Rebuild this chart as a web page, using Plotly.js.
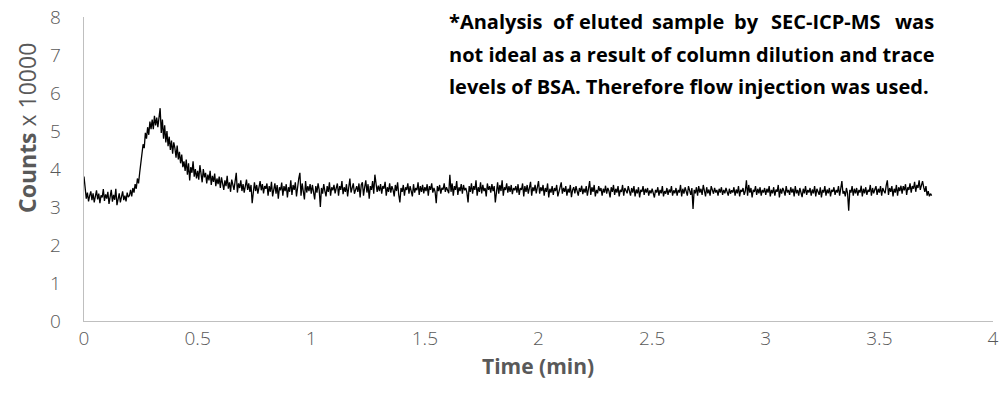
<!DOCTYPE html>
<html>
<head>
<meta charset="utf-8">
<script src="https://cdn.plot.ly/plotly-3.0.1.min.js"></script>
<style>html,body{margin:0;padding:0;background:#fff;}#chart{width:1003px;height:396px;}</style>
</head>
<body>
<div id="chart"></div>
<script>
// Sampling of the trace (minutes)
const timeStart = 0;
const timeStep = 0.005;

// Counts (x 10000), one row per 0.1 min
const counts = [
 3.80,3.55,3.22,3.38,3.15,3.30,3.41,3.18,3.36,3.12,3.28,3.44,3.20,3.35,3.10,3.31,3.25,3.47,3.16,3.33,
 3.22,3.40,3.08,3.29,3.45,3.14,3.32,3.19,3.48,3.05,3.27,3.36,3.12,3.24,3.41,3.18,3.30,3.15,3.38,3.26,
 3.30,3.45,3.28,3.50,3.38,3.60,3.48,3.75,3.62,3.90,4.20,4.45,4.65,4.55,4.95,4.80,5.10,4.90,5.25,5.05,
 5.30,5.05,5.40,5.15,5.35,5.10,5.45,5.60,4.95,5.30,4.80,5.15,4.70,5.00,4.60,4.85,4.50,4.75,4.40,4.70,
 4.55,4.30,4.62,4.25,4.45,4.15,4.38,4.05,4.20,3.95,4.25,3.85,4.15,3.70,4.05,3.90,4.20,3.80,4.00,3.75,
 3.95,3.72,4.10,3.80,3.65,4.00,3.78,3.90,3.62,3.85,3.70,3.95,3.58,3.82,3.66,3.88,3.55,3.75,3.60,3.80,
 3.50,3.78,3.62,3.45,3.70,3.55,3.82,3.48,3.65,3.40,3.72,3.58,3.45,3.68,3.90,3.38,3.62,3.50,3.70,3.42,
 3.60,3.38,3.55,3.72,3.45,3.62,3.40,3.58,3.10,3.50,3.65,3.42,3.58,3.35,3.52,3.68,3.44,3.60,3.36,3.55,
 3.48,3.62,3.30,3.55,3.40,3.66,3.28,3.50,3.62,3.35,3.58,3.22,3.52,3.44,3.64,3.30,3.55,3.42,3.60,3.25,
 3.52,3.40,3.70,3.32,3.58,3.45,3.65,3.28,3.55,3.75,3.90,3.30,3.62,3.45,3.20,3.68,3.38,3.55,3.42,3.60,
 3.35,3.58,3.42,3.20,3.55,3.38,3.62,3.45,3.00,3.50,3.35,3.60,3.42,3.28,3.55,3.40,3.65,3.30,3.52,3.44,
 3.58,3.36,3.50,3.62,3.30,3.55,3.45,3.68,3.34,3.52,3.40,3.60,3.28,3.56,3.75,3.38,3.50,3.62,3.35,3.48,
 3.55,3.40,3.62,3.25,3.58,3.65,3.30,3.52,3.70,3.38,3.60,3.22,3.55,3.45,3.68,3.35,3.85,3.62,3.40,3.56,
 3.42,3.60,3.35,3.55,3.48,3.66,3.30,3.52,3.40,3.62,3.38,3.55,3.45,3.28,3.58,3.42,3.65,3.32,3.12,3.50,
 3.40,3.58,3.30,3.52,3.45,3.62,3.35,3.55,3.42,3.28,3.60,3.38,3.50,3.44,3.65,3.32,3.55,3.40,3.58,3.36,
 3.52,3.42,3.60,3.30,3.55,3.45,3.62,3.38,3.50,3.40,3.10,3.55,3.42,3.58,3.35,3.50,3.46,3.62,3.40,3.52,
 3.44,3.36,3.85,3.40,3.62,3.30,3.55,3.45,3.68,3.32,3.52,3.42,3.60,3.35,3.58,3.44,3.50,3.38,3.12,3.55,
 3.40,3.62,3.35,3.55,3.45,3.70,3.30,3.52,3.40,3.65,3.36,3.58,3.42,3.50,3.28,3.62,3.45,3.55,3.38,3.60,
 3.42,3.55,3.12,3.48,3.65,3.35,3.58,3.42,3.70,3.30,3.52,3.45,3.62,3.38,3.55,3.40,3.58,3.34,3.50,3.44,
 3.55,3.38,3.60,3.32,3.50,3.45,3.62,3.28,3.55,3.40,3.58,3.35,3.48,3.66,3.30,3.52,3.42,3.58,3.36,3.50,
 3.68,3.35,3.52,3.42,3.58,3.30,3.50,3.40,3.62,3.25,3.48,3.38,3.55,3.32,3.50,3.42,3.58,3.28,3.45,3.52,
 3.65,3.35,3.50,3.40,3.55,3.30,3.48,3.38,3.58,3.26,3.45,3.52,3.36,3.55,3.42,3.30,3.50,3.40,3.56,3.34,
 3.48,3.38,3.55,3.30,3.48,3.68,3.32,3.52,3.40,3.58,3.28,3.45,3.36,3.55,3.42,3.50,3.30,3.48,3.38,3.56,
 3.35,3.50,3.42,3.25,3.52,3.40,3.58,3.32,3.48,3.38,3.55,3.28,3.45,3.40,3.58,3.30,3.50,3.42,3.36,3.55,
 3.42,3.30,3.50,3.38,3.55,3.28,3.46,3.36,3.52,3.25,3.45,3.40,3.55,3.32,3.48,3.38,3.50,3.30,3.44,3.36,
 3.48,3.32,3.25,3.45,3.38,3.52,3.30,3.45,3.36,3.55,3.28,3.42,3.35,3.50,3.32,3.46,3.38,3.55,3.30,3.44,
 3.36,3.50,3.30,3.45,3.38,3.58,3.28,3.48,3.35,3.52,3.40,3.30,3.55,3.42,3.32,3.50,2.95,3.45,3.36,3.52,
 3.30,3.55,3.38,3.48,3.32,3.58,3.40,3.28,3.52,3.36,3.46,3.30,3.55,3.42,3.35,3.50,3.38,3.45,3.30,3.48,
 3.38,3.52,3.32,3.45,3.36,3.50,3.40,3.30,3.48,3.35,3.44,3.38,3.52,3.30,3.46,3.36,3.55,3.28,3.45,3.40,
 3.50,3.32,3.42,3.70,3.30,3.58,3.38,3.50,3.25,3.45,3.40,3.55,3.32,3.48,3.36,3.52,3.30,3.45,3.38,3.50,
 3.32,3.48,3.38,3.55,3.28,3.45,3.36,3.52,3.30,3.46,3.40,3.58,3.25,3.48,3.35,3.50,3.42,3.30,3.55,3.38,
 3.45,3.32,3.52,3.38,3.48,3.28,3.55,3.36,3.45,3.30,3.50,3.40,3.26,3.48,3.36,3.55,3.32,3.45,3.38,3.50,
 3.30,3.46,3.36,3.55,3.28,3.48,3.40,3.32,3.52,3.25,3.45,3.38,3.55,3.30,3.46,3.36,3.50,3.28,3.45,3.40,
 3.52,3.32,3.45,3.38,3.55,3.30,3.48,3.68,3.35,3.42,3.28,3.50,3.36,2.90,3.45,3.38,3.55,3.30,3.48,3.36,
 3.50,3.30,3.45,3.38,3.56,3.28,3.48,3.36,3.52,3.32,3.45,3.40,3.58,3.30,3.50,3.36,3.46,3.55,3.32,3.48,
 3.38,3.55,3.30,3.50,3.42,3.36,3.56,3.70,3.32,3.50,3.40,3.55,3.28,3.48,3.38,3.58,3.30,3.52,3.42,3.56,
 3.35,3.55,3.44,3.60,3.32,3.52,3.45,3.62,3.38,3.55,3.48,3.66,3.40,3.58,3.50,3.70,3.45,3.62,3.68,3.52,
 3.40,3.55,3.30,3.42,3.28,3.35,3.30
];

const xTicks = [0, 0.5, 1, 1.5, 2, 2.5, 3, 3.5, 4];
const xTickText = ['0', '0.5', '1', '1.5', '2', '2.5', '3', '3.5', '4'];
const yTicks = [0, 1, 2, 3, 4, 5, 6, 7, 8];
const yTickText = ['0', '1', '2', '3', '4', '5', '6', '7', '8'];

const xTitle = 'Time (min)';
const yTitleBold = 'Counts';
const yTitleRest = ' x 10000';
const noteLine1 = ['*Analysis', 'of', 'eluted', 'sample', 'by', 'SEC-ICP-MS', 'was'];
const noteLine2 = 'not ideal as a result of column dilution and trace';
const noteLine3 = 'levels of BSA. Therefore flow injection was used.';

const times = counts.map((_, i) => +(timeStart + i * timeStep).toFixed(3));

// geometry helpers (page pixels -> paper fractions)
const M = {l: 84, r: 10, t: 17, b: 75};
const W = 1003, H = 396;
const PW = W - M.l - M.r, PH = H - M.t - M.b;
const px = v => (v - M.l) / PW;
const py = v => (H - M.b - v) / PH;

const noteFont = {family: '"Open Sans", sans-serif', size: 20, color: '#000000', weight: 700};
const tickFont = {family: '"Open Sans", sans-serif', size: 19, color: '#595959', weight: 300};

const line1Pos = [
  {x: 447, a: 'left'}, {x: 563, a: 'center'}, {x: 611, a: 'center'},
  {x: 688, a: 'center'}, {x: 746, a: 'center'}, {x: 826, a: 'center'}, {x: 936, a: 'right'}
];

const annotations = noteLine1.map((w, i) => ({
  xref: 'paper', yref: 'paper', x: px(line1Pos[i].x), y: py(21),
  xanchor: line1Pos[i].a, yanchor: 'middle', text: w, showarrow: false, font: noteFont
}));
annotations.push({xref: 'paper', yref: 'paper', x: px(447), y: py(54), xanchor: 'left', yanchor: 'middle',
  text: noteLine2, showarrow: false, font: noteFont});
annotations.push({xref: 'paper', yref: 'paper', x: px(447), y: py(86), xanchor: 'left', yanchor: 'middle',
  text: noteLine3, showarrow: false, font: noteFont});
annotations.push({xref: 'paper', yref: 'paper', x: px(27), y: py(128), xanchor: 'center', yanchor: 'middle',
  textangle: -90, showarrow: false,
  text: '<b>' + yTitleBold + '</b>' + yTitleRest,
  font: {family: '"Open Sans", sans-serif', size: 23, color: '#595959'}});
annotations.push({xref: 'paper', yref: 'paper', x: px(538), y: py(366), xanchor: 'center', yanchor: 'middle',
  showarrow: false, text: '<b>' + xTitle + '</b>',
  font: {family: '"Open Sans", sans-serif', size: 21, color: '#595959'}});

const trace = {
  x: times, y: counts, type: 'scatter', mode: 'lines',
  line: {color: '#000000', width: 1.3}, hoverinfo: 'skip'
};

const layout = {
  width: W, height: H,
  margin: M,
  paper_bgcolor: '#ffffff', plot_bgcolor: '#ffffff',
  showlegend: false,
  xaxis: {
    range: [0, 4], tickvals: xTicks, ticktext: xTickText,
    showgrid: false, zeroline: false, showline: true, linecolor: '#bfbfbf', linewidth: 1.3,
    ticks: 'outside', ticklen: 0, tickcolor: 'rgba(0,0,0,0)', tickfont: tickFont
  },
  yaxis: {
    range: [0, 8], tickvals: yTicks, ticktext: yTickText,
    showgrid: false, zeroline: false, showline: true, linecolor: '#bfbfbf', linewidth: 1.3,
    ticks: 'outside', ticklen: 18, tickcolor: 'rgba(0,0,0,0)', tickfont: tickFont
  },
  annotations: annotations
};

Plotly.newPlot('chart', [trace], layout, {staticPlot: true, displayModeBar: false});
</script>
</body>
</html>
